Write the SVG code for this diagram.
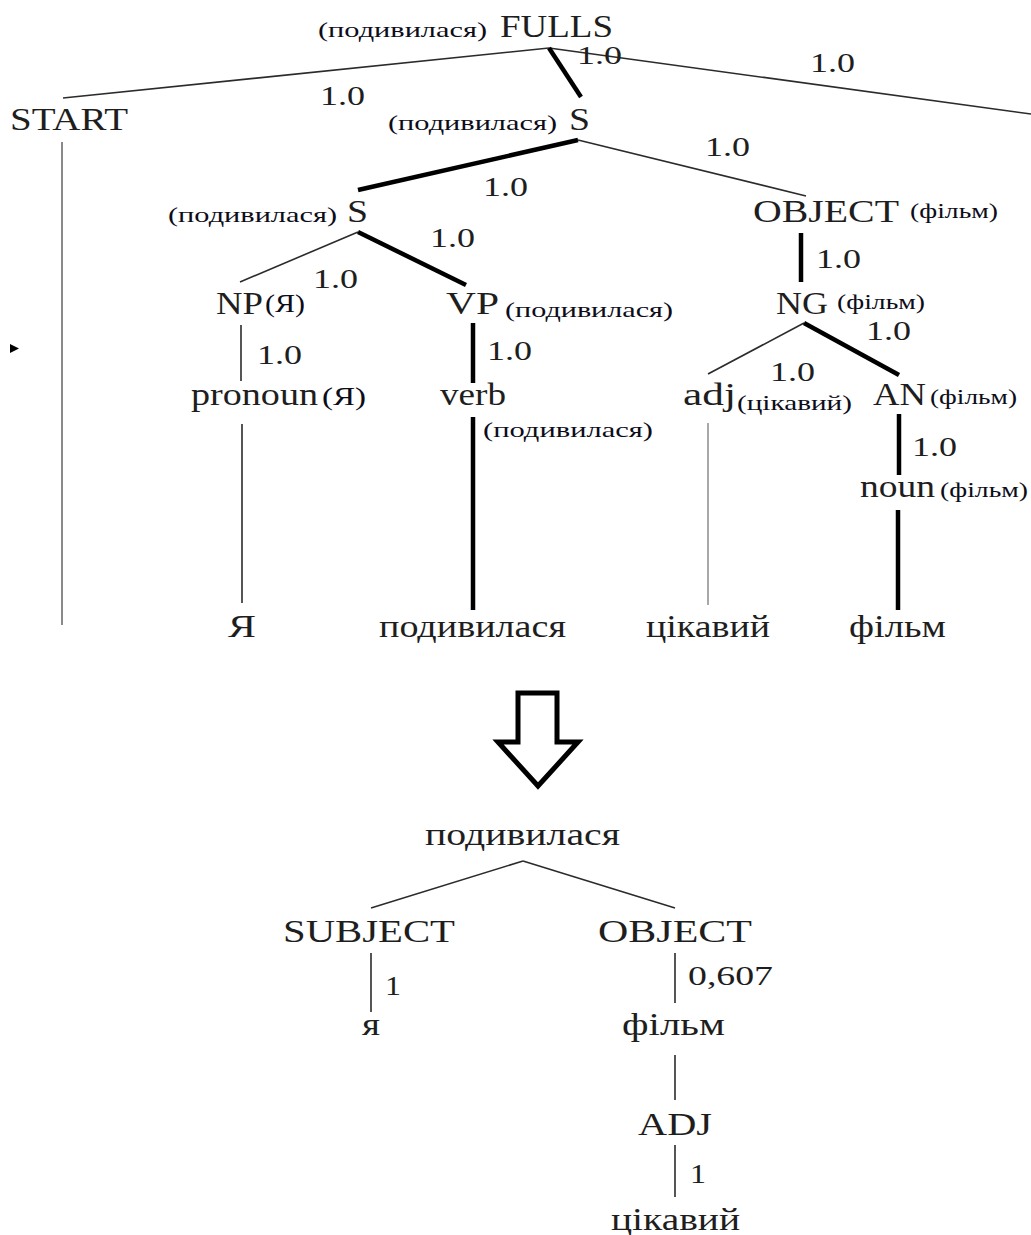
<svg xmlns="http://www.w3.org/2000/svg" width="1031" height="1235" viewBox="0 0 1031 1235">
  <style>
    text { font-family: "Liberation Serif", "DejaVu Serif", serif; fill: #1e1e1e; }
    .lab { font-size: 31px; }
    .ann { font-size: 21px; fill: #0d0d1a; }
    .annb { font-size: 25px; fill: #0d0d1a; }
    .w { font-size: 28px; fill: #2a2a2a; }
    .thin { stroke: #2b2b2b; stroke-width: 1.6; fill: none; }
    .thick { stroke: #000; stroke-width: 4.5; fill: none; }
    .gray { stroke: #8a8a8a; stroke-width: 2; fill: none; }
    .gray2 { stroke: #a8a8a8; stroke-width: 2; fill: none; }
  </style>

  <!-- parse tree edges -->
  <g id="connectors">
    <line class="thin" x1="549" y1="48" x2="63" y2="98"/>
    <line class="thin" x1="549" y1="48" x2="1031" y2="114"/>
    <line class="thick" x1="549" y1="48" x2="581" y2="97"/>
    <line class="thick" x1="578" y1="140" x2="358" y2="190"/>
    <line class="thin" x1="578" y1="140" x2="806" y2="196"/>
    <line class="thin" x1="358" y1="232" x2="240" y2="282"/>
    <line class="thick" x1="358" y1="232" x2="466" y2="285"/>
    <line class="thin" x1="241" y1="325" x2="241" y2="381"/>
    <line class="thick" x1="473" y1="323" x2="473" y2="383"/>
    <line class="thin" x1="242" y1="424" x2="242" y2="603"/>
    <line class="thick" x1="473" y1="417" x2="473" y2="610"/>
    <line class="gray" x1="62" y1="142" x2="62" y2="625"/>
    <line class="thick" x1="801" y1="233" x2="801" y2="282"/>
    <line class="thin" x1="804" y1="323" x2="708" y2="374"/>
    <line class="thick" x1="804" y1="323" x2="899" y2="375"/>
    <line class="thick" x1="899" y1="414" x2="899" y2="475"/>
    <line class="gray2" x1="708" y1="423" x2="708" y2="605"/>
    <line class="thick" x1="898" y1="510" x2="898" y2="610"/>

    <!-- dependency tree edges -->
    <line class="thin" x1="523" y1="861" x2="371" y2="908"/>
    <line class="thin" x1="523" y1="861" x2="675" y2="908"/>
    <line class="thin" x1="371" y1="953" x2="371" y2="1012"/>
    <line class="thin" x1="675" y1="953" x2="675" y2="1003"/>
    <line class="thin" x1="675" y1="1055" x2="675" y2="1100"/>
    <line class="thin" x1="675" y1="1145" x2="675" y2="1197"/>
  </g>

  <!-- edge weights -->
  <g id="weights" class="w">
    <text x="577" y="64" font-size="26" textLength="45" lengthAdjust="spacingAndGlyphs">1.0</text>
    <text x="810" y="72" textLength="45" lengthAdjust="spacingAndGlyphs">1.0</text>
    <text x="320" y="105" textLength="45" lengthAdjust="spacingAndGlyphs">1.0</text>
    <text x="705" y="156" textLength="45" lengthAdjust="spacingAndGlyphs">1.0</text>
    <text x="483" y="196" textLength="45" lengthAdjust="spacingAndGlyphs">1.0</text>
    <text x="430" y="247" textLength="45" lengthAdjust="spacingAndGlyphs">1.0</text>
    <text x="313" y="288" textLength="45" lengthAdjust="spacingAndGlyphs">1.0</text>
    <text x="257" y="364" textLength="45" lengthAdjust="spacingAndGlyphs">1.0</text>
    <text x="487" y="360" textLength="45" lengthAdjust="spacingAndGlyphs">1.0</text>
    <text x="816" y="268" textLength="45" lengthAdjust="spacingAndGlyphs">1.0</text>
    <text x="866" y="340" textLength="45" lengthAdjust="spacingAndGlyphs">1.0</text>
    <text x="770" y="381" textLength="45" lengthAdjust="spacingAndGlyphs">1.0</text>
    <text x="912" y="456" textLength="45" lengthAdjust="spacingAndGlyphs">1.0</text>
    <text x="385" y="995" textLength="16" lengthAdjust="spacingAndGlyphs">1</text>
    <text x="688" y="985" textLength="85" lengthAdjust="spacingAndGlyphs">0,607</text>
    <text x="690" y="1183" textLength="16" lengthAdjust="spacingAndGlyphs">1</text>
  </g>

  <!-- parse tree nodes -->
  <g id="fulls">
    <text class="ann" x="318" y="37" textLength="169" lengthAdjust="spacingAndGlyphs">(подивилася)</text>
    <text class="lab" x="500" y="37" textLength="113" lengthAdjust="spacingAndGlyphs">FULLS</text>
  </g>
  <g id="start">
    <text class="lab" x="10" y="130" textLength="118" lengthAdjust="spacingAndGlyphs">START</text>
  </g>
  <g id="s-top">
    <text class="ann" x="388" y="130" textLength="169" lengthAdjust="spacingAndGlyphs">(подивилася)</text>
    <text class="lab" x="569" y="130" textLength="21" lengthAdjust="spacingAndGlyphs">S</text>
  </g>
  <g id="s-inner">
    <text class="ann" x="168" y="222" textLength="169" lengthAdjust="spacingAndGlyphs">(подивилася)</text>
    <text class="lab" x="347" y="222" textLength="21" lengthAdjust="spacingAndGlyphs">S</text>
  </g>
  <g id="np">
    <text class="lab" x="216" y="314" textLength="47" lengthAdjust="spacingAndGlyphs">NP</text>
    <text class="annb" x="265" y="312" textLength="40" lengthAdjust="spacingAndGlyphs">(Я)</text>
  </g>
  <g id="vp">
    <text class="lab" x="446" y="314" textLength="53" lengthAdjust="spacingAndGlyphs">VP</text>
    <text class="ann" x="505" y="317" textLength="168" lengthAdjust="spacingAndGlyphs">(подивилася)</text>
  </g>
  <g id="pronoun">
    <text class="lab" x="191" y="405" textLength="127" lengthAdjust="spacingAndGlyphs">pronoun</text>
    <text class="annb" x="322" y="405" textLength="44" lengthAdjust="spacingAndGlyphs">(Я)</text>
  </g>
  <g id="verb">
    <text class="lab" x="440" y="405" textLength="66" lengthAdjust="spacingAndGlyphs">verb</text>
    <text class="ann" x="483" y="437" textLength="170" lengthAdjust="spacingAndGlyphs">(подивилася)</text>
  </g>
  <g id="leaf-ya">
    <text class="lab" x="228" y="637" textLength="28" lengthAdjust="spacingAndGlyphs">Я</text>
  </g>
  <g id="leaf-podyvylasia">
    <text class="lab" x="379" y="637" textLength="187" lengthAdjust="spacingAndGlyphs">подивилася</text>
  </g>
  <g id="object">
    <text class="lab" x="753" y="222" textLength="146" lengthAdjust="spacingAndGlyphs">OBJECT</text>
    <text class="ann" x="910" y="218" textLength="88" lengthAdjust="spacingAndGlyphs">(фільм)</text>
  </g>
  <g id="ng">
    <text class="lab" x="776" y="314" textLength="52" lengthAdjust="spacingAndGlyphs">NG</text>
    <text class="ann" x="837" y="309" textLength="88" lengthAdjust="spacingAndGlyphs">(фільм)</text>
  </g>
  <g id="adj">
    <text class="lab" x="683" y="405" textLength="53" lengthAdjust="spacingAndGlyphs">adj</text>
    <text class="ann" x="737" y="410" textLength="115" lengthAdjust="spacingAndGlyphs">(цікавий)</text>
  </g>
  <g id="an">
    <text class="lab" x="873" y="405" textLength="53" lengthAdjust="spacingAndGlyphs">AN</text>
    <text class="ann" x="930" y="404" textLength="87" lengthAdjust="spacingAndGlyphs">(фільм)</text>
  </g>
  <g id="noun">
    <text class="lab" x="860" y="497" textLength="75" lengthAdjust="spacingAndGlyphs">noun</text>
    <text class="ann" x="940" y="497" textLength="88" lengthAdjust="spacingAndGlyphs">(фільм)</text>
  </g>
  <g id="leaf-tsikavyi">
    <text class="lab" x="646" y="637" textLength="124" lengthAdjust="spacingAndGlyphs">цікавий</text>
  </g>
  <g id="leaf-film">
    <text class="lab" x="849" y="637" textLength="97" lengthAdjust="spacingAndGlyphs">фільм</text>
  </g>

  <!-- small marker at the left margin -->
  <polygon points="10,344 19,348.5 10,353" fill="#000"/>

  <!-- transformation arrow -->
  <g id="transform-arrow">
    <polygon points="518,693 557,693 557,742 578,742 538,786 498,742 518,742" fill="#fff" stroke="#000" stroke-width="5" stroke-linejoin="miter"/>
  </g>

  <!-- dependency tree nodes -->
  <g id="dep-root">
    <text class="lab" x="425" y="845" textLength="195" lengthAdjust="spacingAndGlyphs">подивилася</text>
  </g>
  <g id="dep-subject">
    <text class="lab" x="283" y="942" textLength="172" lengthAdjust="spacingAndGlyphs">SUBJECT</text>
  </g>
  <g id="dep-object">
    <text class="lab" x="598" y="942" textLength="154" lengthAdjust="spacingAndGlyphs">OBJECT</text>
  </g>
  <g id="dep-ya">
    <text class="lab" x="362" y="1035" textLength="18" lengthAdjust="spacingAndGlyphs">я</text>
  </g>
  <g id="dep-film">
    <text class="lab" x="622" y="1035" textLength="103" lengthAdjust="spacingAndGlyphs">фільм</text>
  </g>
  <g id="dep-adj">
    <text class="lab" x="638" y="1135" textLength="74" lengthAdjust="spacingAndGlyphs">ADJ</text>
  </g>
  <g id="dep-tsikavyi">
    <text class="lab" x="611" y="1230" textLength="129" lengthAdjust="spacingAndGlyphs">цікавий</text>
  </g>
</svg>
